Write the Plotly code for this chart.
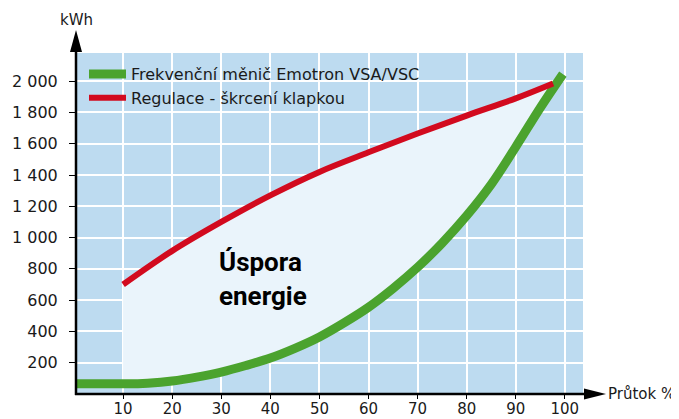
import plotly.graph_objects as go

# ---- data ----
green_x = [0.5, 5, 10, 13, 15, 20, 25, 30, 35, 40, 45, 50, 55, 60, 65, 70, 75, 80, 85, 90, 95, 99.6]
green_y = [65, 65, 65, 65, 68, 83, 108, 140, 182, 230, 292, 365, 455, 555, 675, 810, 965, 1140, 1340, 1580, 1830, 2045]

red_x = [10, 20, 30, 40, 50, 60, 70, 80, 90, 97.6]
red_y = [700, 915, 1100, 1270, 1420, 1545, 1665, 1780, 1890, 1985]

names = ["Frekvenční měnič Emotron VSA/VSC", "Regulace - škrcení klapkou"]
x_ticks = [10, 20, 30, 40, 50, 60, 70, 80, 90, 100]
y_ticks = [200, 400, 600, 800, 1000, 1200, 1400, 1600, 1800, 2000]
y_tick_text = ["200", "400", "600", "800", "1 000", "1 200", "1 400", "1 600", "1 800", "2 000"]
x_title = "Průtok %"
y_title = "kWh"
savings_label = "Úspora<br>energie"

# ---- styling ----
BG = "#BDDBF0"
FILL = "#EAF4FB"
GREEN = "#4BA32E"
RED = "#D20A1E"
FONT = "DejaVu Sans"
TXT = "#1a1a1a"

# the page body has an 8px margin: work in window pixels, convert to figure
OFF = 8
W, H = 679 - OFF, 419 - OFF
L, R, T, B = 76 - OFF, 679 - 583, 53 - OFF, 419 - 394
PW, PH = W - L - R, H - T - B


def px(xs):  # window pixel x -> paper
    return (xs - OFF - L) / PW


def py(ys):  # window pixel y -> paper
    return (H - B - (ys - OFF)) / PH


# polygon between the two curves (savings region)
g_part = [(x, y) for x, y in zip(green_x, green_y) if 10 <= x <= 95]
fill_x = list(red_x) + [p[0] for p in reversed(g_part)]
fill_y = list(red_y) + [p[1] for p in reversed(g_part)]

fig = go.Figure()
fig.add_trace(go.Scatter(x=fill_x, y=fill_y, mode="none", fill="toself",
                         fillcolor=FILL, showlegend=False, hoverinfo="skip"))
fig.add_trace(go.Scatter(x=green_x, y=green_y, mode="lines", name=names[0],
                         line=dict(color=GREEN, width=9, shape="spline")))
fig.add_trace(go.Scatter(x=red_x, y=red_y, mode="lines", name=names[1],
                         line=dict(color=RED, width=6, shape="spline")))

fig.update_layout(
    width=W, height=H,
    margin=dict(l=L, r=R, t=T, b=B, autoexpand=False),
    paper_bgcolor="white",
    plot_bgcolor=BG,
    font=dict(family=FONT, size=15, color=TXT),
    showlegend=True,
    legend=dict(x=px(84), y=py(57), xanchor="left", yanchor="top",
                bgcolor="rgba(0,0,0,0)", font=dict(size=16, color=TXT),
                itemwidth=37, tracegroupgap=0),
    hovermode=False,
)
fig.update_xaxes(range=[0.4, 103.7], tickvals=x_ticks, showgrid=True,
                 gridcolor="white", gridwidth=1.5, zeroline=False,
                 showline=False, ticks="outside", ticklen=4, tickwidth=1,
                 tickcolor="black", ticklabelstandoff=-3,
                 tickfont=dict(size=15, color=TXT), automargin=False)
fig.update_yaxes(range=[0, 2180], tickvals=y_ticks, ticktext=y_tick_text,
                 showgrid=True, gridcolor="white", gridwidth=1.5,
                 zeroline=False, showline=False, ticks="outside", ticklen=6,
                 tickwidth=1, tickcolor="black", ticklabelstandoff=8,
                 tickfont=dict(size=16, color=TXT), automargin=False)

# axes with arrows
shapes = [
    dict(type="line", xref="paper", yref="paper", x0=px(76), x1=px(76),
         y0=py(395), y1=py(48), line=dict(color="black", width=2.5)),
    dict(type="line", xref="paper", yref="paper", x0=px(75), x1=px(590),
         y0=py(394), y1=py(394), line=dict(color="black", width=2.5)),
    dict(type="path", xref="paper", yref="paper",
         path=f"M {px(76)} {py(30)} L {px(70)} {py(52)} L {px(82)} {py(52)} Z",
         fillcolor="black", line=dict(width=0)),
    dict(type="path", xref="paper", yref="paper",
         path=f"M {px(606)} {py(394)} L {px(584)} {py(388.5)} L {px(584)} {py(399.5)} Z",
         fillcolor="black", line=dict(width=0)),
]
fig.update_layout(shapes=shapes)

annotations = [
    dict(text=y_title, xref="paper", yref="paper", x=px(76), y=py(20),
         xanchor="center", yanchor="middle", showarrow=False,
         font=dict(size=15, color=TXT)),
    dict(text=x_title, xref="paper", yref="paper", x=px(606), y=py(394),
         xanchor="left", yanchor="middle", showarrow=False,
         font=dict(size=15, color=TXT)),
    dict(text="<b>" + savings_label + "</b>", xref="paper", yref="paper",
         x=px(217), y=py(279), xanchor="left", yanchor="middle",
         showarrow=False, align="left",
         font=dict(size=26, color="black", family="Roboto")),
]
fig.update_layout(annotations=annotations)

fig.write_html("out.html")
